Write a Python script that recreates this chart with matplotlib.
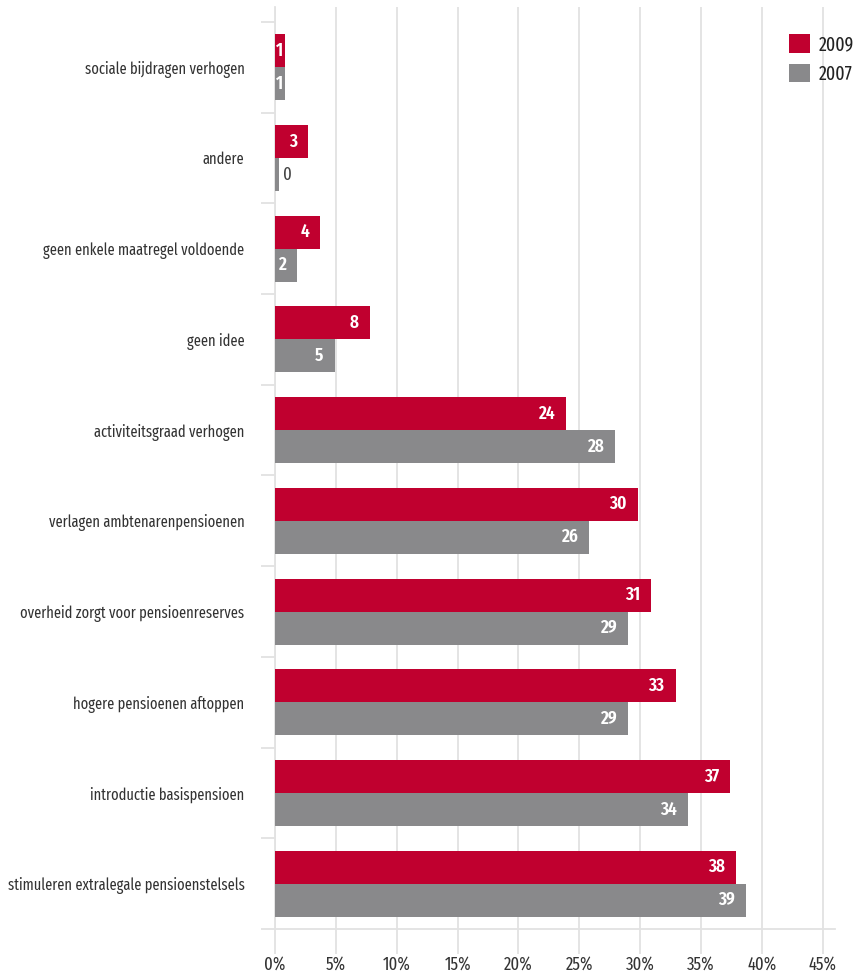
import matplotlib
matplotlib.use("Agg")
import matplotlib.pyplot as plt
import numpy as np

plt.rcParams['font.family'] = ['Fira Sans Extra Condensed', 'DejaVu Sans']

categories = [
    "sociale bijdragen verhogen",
    "andere",
    "geen enkele maatregel voldoende",
    "geen idee",
    "activiteitsgraad verhogen",
    "verlagen ambtenarenpensioenen",
    "overheid zorgt voor pensioenreserves",
    "hogere pensioenen aftoppen",
    "introductie basispensioen",
    "stimuleren extralegale pensioenstelsels",
]
vals_2009 = [0.8, 2.7, 3.7, 7.8, 23.9, 29.8, 30.9, 32.9, 37.4, 37.9]
vals_2007 = [0.8, 0.3, 1.8, 4.9, 27.9, 25.8, 29.0, 29.0, 33.9, 38.7]
series_names = ["2009", "2007"]
xticks = [0, 5, 10, 15, 20, 25, 30, 35, 40, 45]

RED = "#c0002f"
GREY = "#89898b"
LINE = "#e2e2e2"
W, H = 861, 973

fig = plt.figure(figsize=(W / 100, H / 100), dpi=100)
ax = fig.add_axes([275 / W, 1 - 929 / H, 560 / W, (929 - 7) / H])

y = np.arange(len(categories))
bh = 0.364
b1 = ax.barh(y - bh / 2, vals_2009, height=bh, color=RED, label=series_names[0], zorder=3)
b2 = ax.barh(y + bh / 2, vals_2007, height=bh, color=GREY, label=series_names[1], zorder=3)

ax.set_xlim(0, 46)
ax.set_ylim(len(categories) - 0.5, -0.665)

# value labels: inside the bar end, centred on thin bars, outside when ~0
px_per_unit = 560 / 46
for bars, vals in ((b1, vals_2009), (b2, vals_2007)):
    for rect, v in zip(bars, vals):
        yc = rect.get_y() + rect.get_height() / 2
        txt = f"{v:.0f}"
        if round(v) == 0:
            ax.annotate(txt, (v, yc), xytext=(3, 0), textcoords="offset points",
                        ha="left", va="center", color="#444444", fontsize=13, zorder=4)
        elif v * px_per_unit < 20:
            ax.text(v / 2, yc, txt, ha="center", va="center", color="white",
                    fontsize=13.5, fontweight="semibold", zorder=4)
        else:
            ax.annotate(txt, (v, yc), xytext=(-8, 0), textcoords="offset points",
                        ha="right", va="center", color="white", fontsize=13.5,
                        fontweight="semibold", zorder=4)

# axes styling
ax.set_xticks(xticks)
ax.set_xticklabels([f"{t}%" for t in xticks])
ax.grid(axis="x", color=LINE, linewidth=1.3, zorder=0)
ax.set_axisbelow(True)
ax.tick_params(axis="x", length=18, width=1.3, color=LINE, pad=1,
               labelsize=13, labelcolor="#333333")

ax.set_yticks(y)
ax.set_yticklabels(categories)
ax.set_yticks(np.arange(len(categories) + 1) - 0.5, minor=True)
ax.tick_params(axis="y", which="major", length=0, pad=22, labelsize=11.3,
               labelcolor="#333333")
ax.tick_params(axis="y", which="minor", length=10, width=1.3, color=LINE)

for side in ("top", "right"):
    ax.spines[side].set_visible(False)
for side in ("left", "bottom"):
    ax.spines[side].set_color(LINE)
    ax.spines[side].set_linewidth(1.3)

ax.legend(loc="upper left", bbox_to_anchor=(789 / W, 1 - 34 / H),
          bbox_transform=fig.transFigure, frameon=False, fontsize=14,
          handlelength=1.1, handleheight=1.1, handletextpad=0.45,
          labelspacing=0.5, borderpad=0, borderaxespad=0, labelcolor="#222222")

fig.savefig("out.png", dpi=100)
